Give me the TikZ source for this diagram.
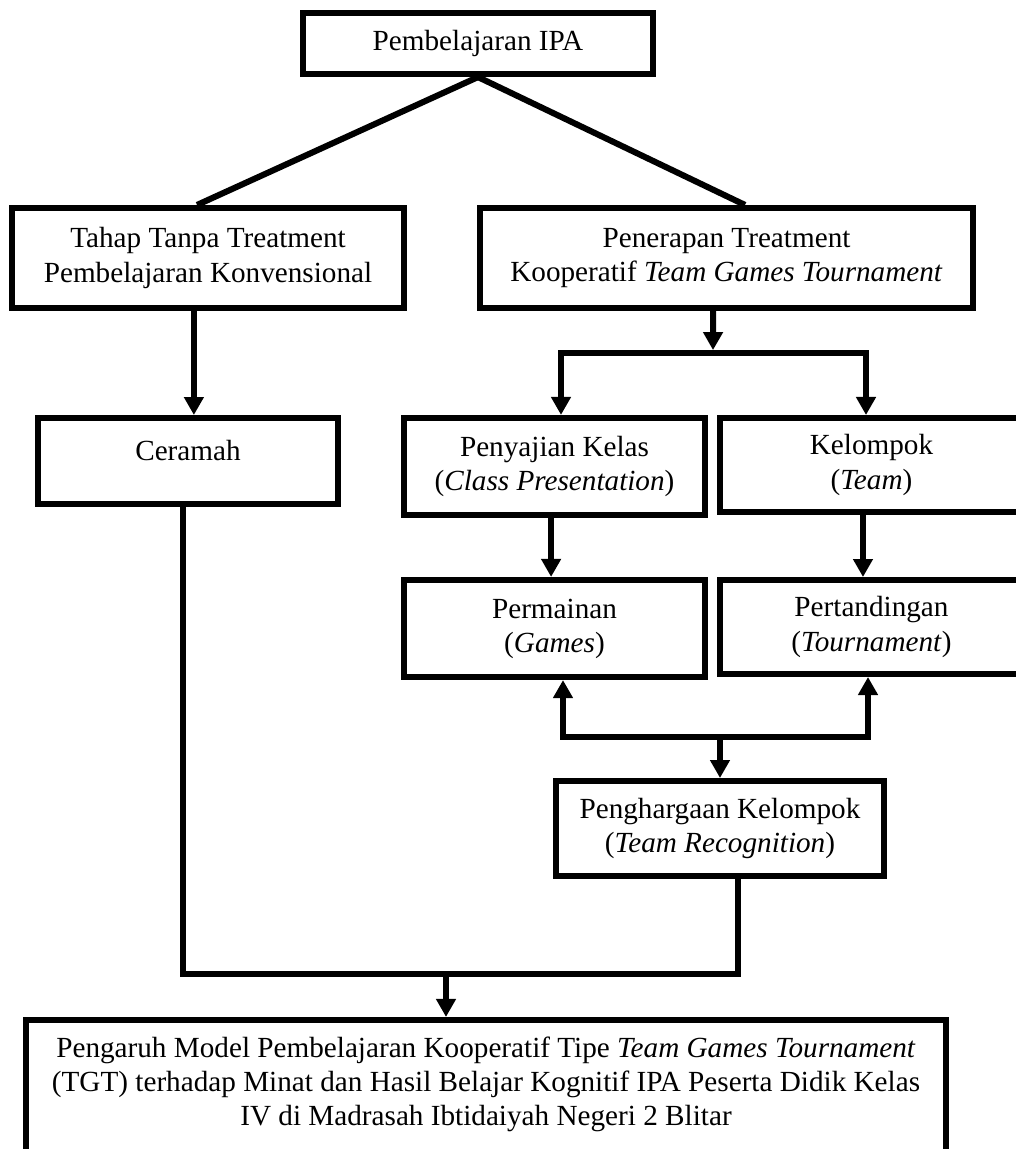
\documentclass[tikz,border=0pt]{standalone}
\usepackage{fontspec}
\setmainfont{Liberation Serif}
\usetikzlibrary{arrows.meta}
\tikzstyle{box}=[rectangle,draw=black,line width=2.5pt,align=center,inner sep=2pt]
\tikzstyle{link}=[line width=2.5pt]
\tikzstyle{arrowline}=[line width=2.5pt,-{Triangle[width=7.8pt,length=7.4pt]}]
\tikzstyle{twoway}=[line width=2.5pt,{Triangle[width=7.8pt,length=7.4pt]}-{Triangle[width=7.8pt,length=7.4pt]}]

\begin{document}
\begin{tikzpicture}[x=0.411pt,y=-0.411pt,font=\fontsize{12pt}{14pt}\selectfont]
    \useasboundingbox (0,0) rectangle (1016,1149);

    \node (T)  at (478,   43.5) [box,minimum width=143.9pt,minimum height=25.1pt] {Pembelajaran IPA};
    \node (L)  at (208,  258)   [box,minimum width=161.1pt,minimum height=41.1pt] {Tahap Tanpa Treatment\\Pembelajaran Konvensional};
    \node (R)  at (726.5,258)   [box,minimum width=202.6pt,minimum height=41.1pt] {Penerapan Treatment\\Kooperatif \textit{Team Games Tournament}};
    \node (C)  at (188,  461)   [box,minimum width=123.3pt,minimum height=35.3pt,text depth=9pt] {Ceramah};
    \node (P1) at (554.5,466.5) [box,minimum width=123.7pt,minimum height=39.9pt] {Penyajian Kelas\\(\textit{Class Presentation})};
    \node (K1) at (871.5,465)   [box,minimum width=124.5pt,minimum height=38.6pt] {Kelompok\\(\textit{Team})};
    \node (P2) at (554.5,628.5) [box,minimum width=123.7pt,minimum height=39.9pt] {Permainan\\(\textit{Games})};
    \node (K2) at (871.5,627)   [box,minimum width=124.5pt,minimum height=38.6pt] {Pertandingan\\(\textit{Tournament})};
    \node (G)  at (720,  828.5) [box,minimum width=134.8pt,minimum height=39.0pt] {Penghargaan Kelompok\\(\textit{Team Recognition})};
    \node (B)  at (486, 1101)   [box,minimum width=378.1pt,minimum height=66.6pt] {};
    \node (Bt) at (486, 1084)   [align=center] {Pengaruh Model Pembelajaran Kooperatif Tipe \textit{Team Games Tournament}\\(TGT) terhadap Minat dan Hasil Belajar Kognitif IPA Peserta Didik Kelas\\IV di Madrasah Ibtidaiyah Negeri 2 Blitar};

    \coordinate (split) at (713,353);
    \coordinate (sl) at (561,353);
    \coordinate (sr) at (866,353);
    \coordinate (jl) at (563,737);
    \coordinate (jr) at (868,737);
    \coordinate (m)  at (446,974);

    \draw (T.south) -- ([xshift=-4.5pt]L.north) [link];
    \draw (T.south) -- ([xshift=7.6pt]R.north) [link];

    \draw ([xshift=-5.8pt]L.south) -- ([xshift=-5.8pt]L.south |- C.north) [arrowline];

    \draw ([xshift=-5.5pt]R.south) -- ([yshift=1.2pt]split) [arrowline];
    \draw (sl |- P1.north) -- (sl) -- (sr) -- (sr |- K1.north) [twoway];

    \draw ([xshift=-1.4pt]P1.south) -- ([xshift=-1.4pt]P2.north) [arrowline];
    \draw ([xshift=-3.5pt]K1.south) -- ([xshift=-3.5pt]K2.north) [arrowline];

    \draw (jl |- P2.south) -- (jl) -- (jr) -- (jr |- K2.south) [twoway];
    \draw (G.north |- jl) -- (G.north) [arrowline];

    \draw ([xshift=-2pt]C.south) |- (m) -| ([xshift=7.4pt]G.south) [link];
    \draw (m) -- (m |- B.north) [arrowline];
\end{tikzpicture}
\end{document}
